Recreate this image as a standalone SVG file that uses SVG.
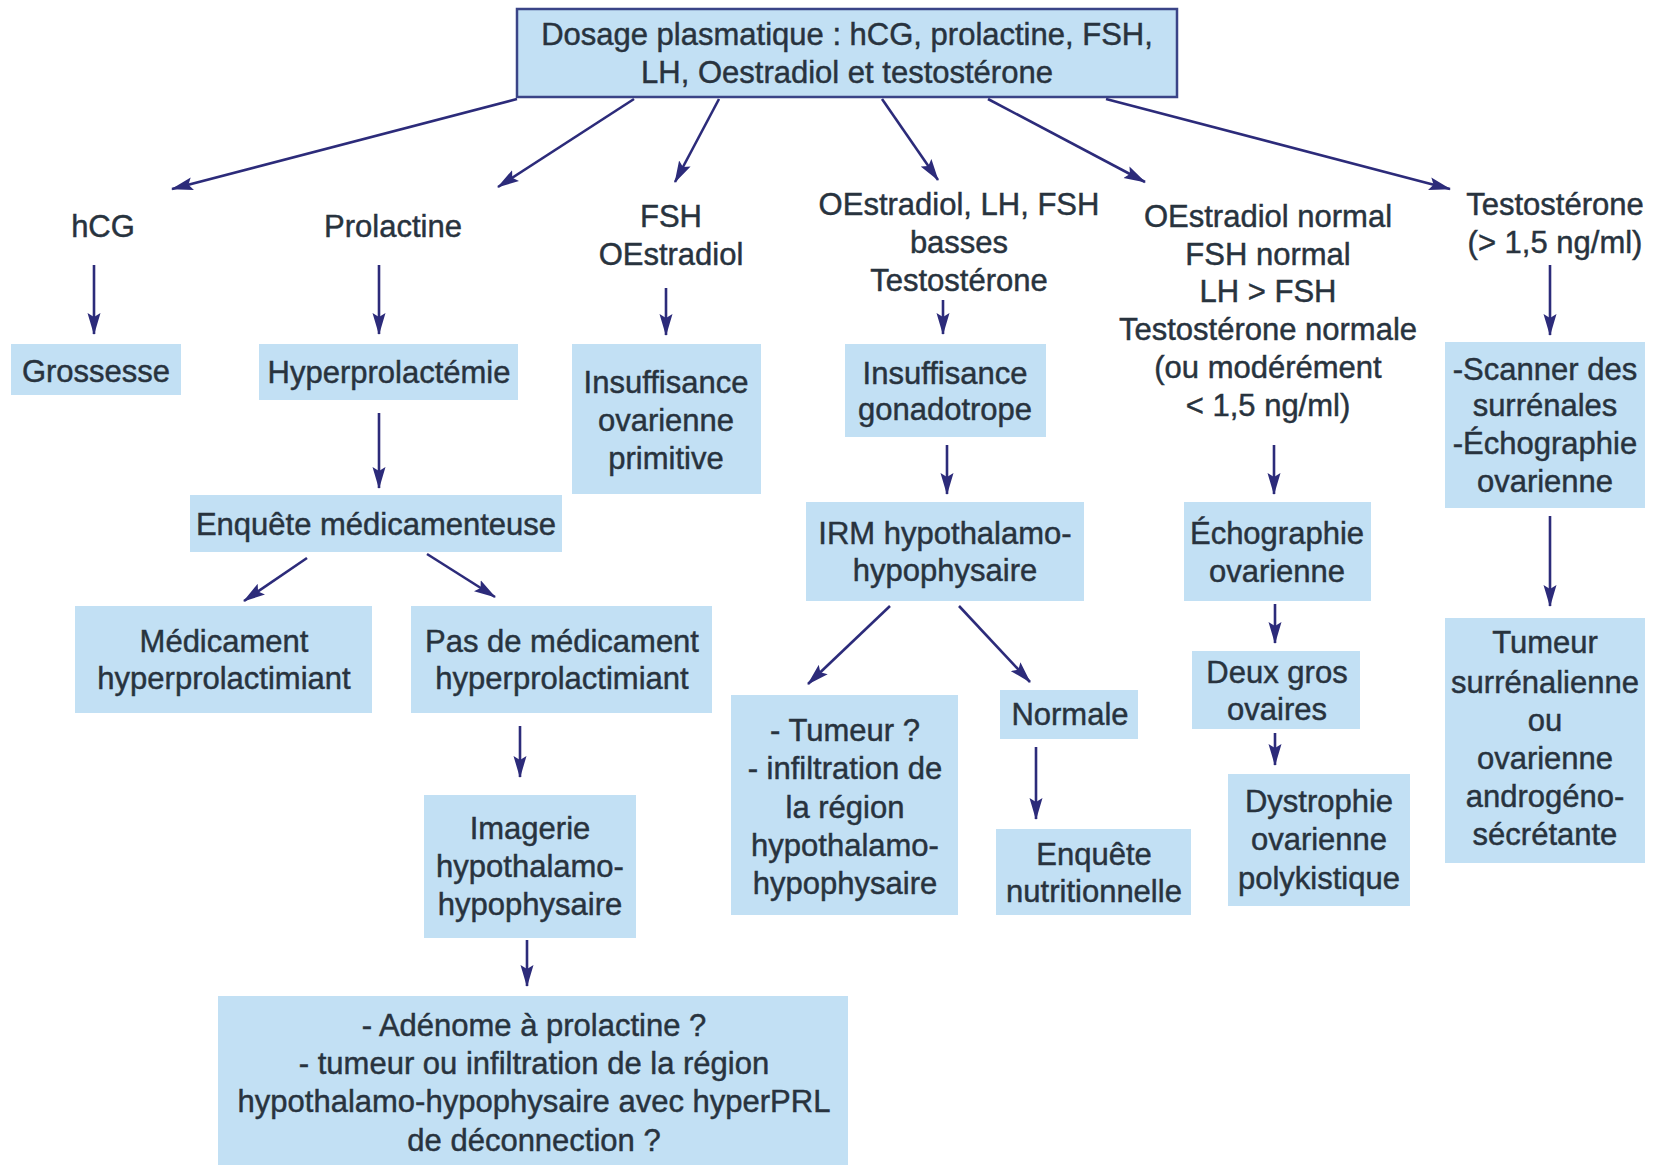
<svg xmlns="http://www.w3.org/2000/svg" width="1662" height="1165" viewBox="0 0 1662 1165">
  <defs>
    <marker id="arrow" markerUnits="userSpaceOnUse" markerWidth="22" markerHeight="14" refX="21" refY="7" orient="auto">
      <path d="M0,0.5 L22,7 L0,13.5 L4,7 z" fill="#2c2b7a"/>
    </marker>
    <style>
      .box { fill: #c2e0f4; }
      .root { fill: #c2e0f4; stroke: #3a4487; stroke-width: 2.5; }
      text { font-family: "Liberation Sans", Arial, sans-serif; font-size: 31px; fill: #28333e; stroke: #28333e; stroke-width: 0.45; text-anchor: middle; }
      .links line { stroke: #2c2b7a; stroke-width: 2.6; marker-end: url(#arrow); }
    </style>
  </defs>
  <rect width="1662" height="1165" fill="#ffffff"/>

  <!-- connectors -->
  <g class="links">
    <line x1="517" y1="99" x2="172" y2="189"/>
    <line x1="634" y1="99" x2="498" y2="187"/>
    <line x1="719" y1="99" x2="675" y2="182"/>
    <line x1="882" y1="99" x2="938" y2="180"/>
    <line x1="988" y1="99" x2="1145" y2="182"/>
    <line x1="1106" y1="99" x2="1450" y2="189"/>
    <line x1="94" y1="265" x2="94" y2="334"/>
    <line x1="379" y1="265" x2="379" y2="334"/>
    <line x1="379" y1="413" x2="379" y2="488"/>
    <line x1="307" y1="558" x2="244" y2="601"/>
    <line x1="427" y1="554" x2="495" y2="597"/>
    <line x1="520" y1="726" x2="520" y2="777"/>
    <line x1="527" y1="940" x2="527" y2="986"/>
    <line x1="666" y1="288" x2="666" y2="335"/>
    <line x1="943" y1="300" x2="943" y2="334"/>
    <line x1="947" y1="445" x2="947" y2="494"/>
    <line x1="890" y1="606" x2="808" y2="684"/>
    <line x1="959" y1="606" x2="1030" y2="682"/>
    <line x1="1036" y1="747" x2="1036" y2="819"/>
    <line x1="1274" y1="445" x2="1274" y2="494"/>
    <line x1="1275" y1="604" x2="1275" y2="643"/>
    <line x1="1275" y1="733" x2="1275" y2="765"/>
    <line x1="1550" y1="265" x2="1550" y2="335"/>
    <line x1="1550" y1="516" x2="1550" y2="606"/>
  </g>

  <!-- root -->
  <g id="dosage">
    <rect class="root" x="517" y="9" width="660" height="88"/>
    <text x="847" y="45">Dosage plasmatique : hCG, prolactine, FSH,</text>
    <text x="847" y="83">LH, Oestradiol et testostérone</text>
  </g>

  <!-- first-level results -->
  <g id="hcg"><text x="103" y="237">hCG</text></g>
  <g id="prolactine"><text x="393" y="237">Prolactine</text></g>
  <g id="fsh-oestradiol">
    <text x="671" y="227">FSH</text>
    <text x="671" y="265">OEstradiol</text>
  </g>
  <g id="basses">
    <text x="959" y="215">OEstradiol, LH, FSH</text>
    <text x="959" y="253">basses</text>
    <text x="959" y="291">Testostérone</text>
  </g>
  <g id="normaux">
    <text x="1268" y="227">OEstradiol normal</text>
    <text x="1268" y="265">FSH normal</text>
    <text x="1268" y="302">LH &gt; FSH</text>
    <text x="1268" y="340">Testostérone normale</text>
    <text x="1268" y="378">(ou modérément</text>
    <text x="1268" y="416">&lt; 1,5 ng/ml)</text>
  </g>
  <g id="testosterone">
    <text x="1555" y="215">Testostérone</text>
    <text x="1555" y="253">(&gt; 1,5 ng/ml)</text>
  </g>

  <!-- hCG branch -->
  <g id="grossesse">
    <rect class="box" x="11" y="344" width="170" height="51"/>
    <text x="96" y="382">Grossesse</text>
  </g>

  <!-- prolactin branch -->
  <g id="hyperprolactemie">
    <rect class="box" x="259" y="344" width="259" height="56"/>
    <text x="389" y="383">Hyperprolactémie</text>
  </g>
  <g id="enquete-medicamenteuse">
    <rect class="box" x="190" y="495" width="372" height="57"/>
    <text x="376" y="535">Enquête médicamenteuse</text>
  </g>
  <g id="medicament">
    <rect class="box" x="75" y="606" width="297" height="107"/>
    <text x="224" y="652">Médicament</text>
    <text x="224" y="689">hyperprolactimiant</text>
  </g>
  <g id="pas-de-medicament">
    <rect class="box" x="411" y="606" width="301" height="107"/>
    <text x="562" y="652">Pas de médicament</text>
    <text x="562" y="689">hyperprolactimiant</text>
  </g>
  <g id="imagerie">
    <rect class="box" x="424" y="795" width="212" height="143"/>
    <text x="530" y="839">Imagerie</text>
    <text x="530" y="877">hypothalamo-</text>
    <text x="530" y="915">hypophysaire</text>
  </g>
  <g id="adenome">
    <rect class="box" x="218" y="996" width="630" height="175"/>
    <text x="534" y="1036">- Adénome à prolactine ?</text>
    <text x="534" y="1074">- tumeur ou infiltration de la région</text>
    <text x="534" y="1112">hypothalamo-hypophysaire avec hyperPRL</text>
    <text x="534" y="1151">de déconnection ?</text>
  </g>

  <!-- FSH branch -->
  <g id="insuffisance-ovarienne">
    <rect class="box" x="572" y="344" width="189" height="150"/>
    <text x="666" y="393">Insuffisance</text>
    <text x="666" y="431">ovarienne</text>
    <text x="666" y="469">primitive</text>
  </g>

  <!-- low hormones branch -->
  <g id="insuffisance-gonadotrope">
    <rect class="box" x="845" y="344" width="201" height="93"/>
    <text x="945" y="384">Insuffisance</text>
    <text x="945" y="420">gonadotrope</text>
  </g>
  <g id="irm">
    <rect class="box" x="806" y="502" width="278" height="99"/>
    <text x="945" y="544">IRM hypothalamo-</text>
    <text x="945" y="581">hypophysaire</text>
  </g>
  <g id="tumeur">
    <rect class="box" x="731" y="695" width="227" height="220"/>
    <text x="845" y="741">- Tumeur ?</text>
    <text x="845" y="779">- infiltration de</text>
    <text x="845" y="818">la région</text>
    <text x="845" y="856">hypothalamo-</text>
    <text x="845" y="894">hypophysaire</text>
  </g>
  <g id="normale">
    <rect class="box" x="1000" y="690" width="138" height="49"/>
    <text x="1070" y="725">Normale</text>
  </g>
  <g id="enquete-nutritionnelle">
    <rect class="box" x="996" y="829" width="195" height="86"/>
    <text x="1094" y="865">Enquête</text>
    <text x="1094" y="902">nutritionnelle</text>
  </g>

  <!-- normal levels branch -->
  <g id="echographie">
    <rect class="box" x="1184" y="502" width="187" height="99"/>
    <text x="1277" y="544">Échographie</text>
    <text x="1277" y="582">ovarienne</text>
  </g>
  <g id="deux-gros-ovaires">
    <rect class="box" x="1192" y="651" width="168" height="78"/>
    <text x="1277" y="683">Deux gros</text>
    <text x="1277" y="720">ovaires</text>
  </g>
  <g id="dystrophie">
    <rect class="box" x="1228" y="774" width="182" height="132"/>
    <text x="1319" y="812">Dystrophie</text>
    <text x="1319" y="850">ovarienne</text>
    <text x="1319" y="889">polykistique</text>
  </g>

  <!-- high testosterone branch -->
  <g id="scanner">
    <rect class="box" x="1445" y="342" width="200" height="166"/>
    <text x="1545" y="380">-Scanner des</text>
    <text x="1545" y="416">surrénales</text>
    <text x="1545" y="454">-Échographie</text>
    <text x="1545" y="492">ovarienne</text>
  </g>
  <g id="tumeur-androgenique">
    <rect class="box" x="1445" y="618" width="200" height="245"/>
    <text x="1545" y="653">Tumeur</text>
    <text x="1545" y="693">surrénalienne</text>
    <text x="1545" y="731">ou</text>
    <text x="1545" y="769">ovarienne</text>
    <text x="1545" y="807">androgéno-</text>
    <text x="1545" y="845">sécrétante</text>
  </g>
</svg>
